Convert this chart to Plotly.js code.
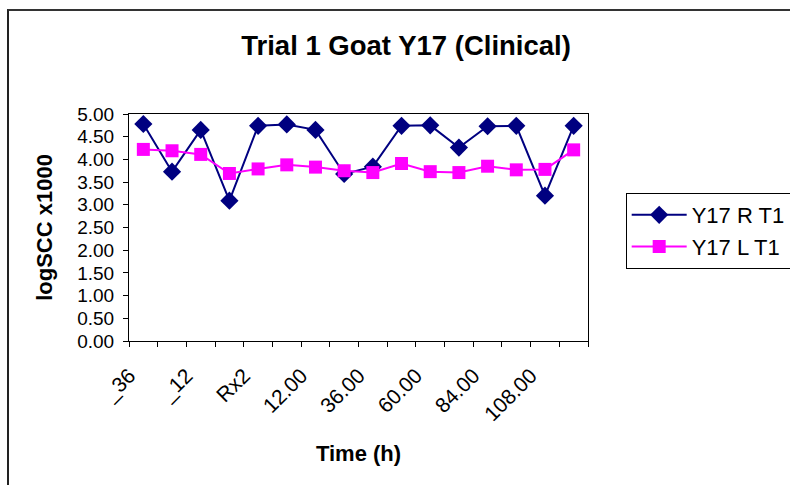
<!DOCTYPE html>
<html>
<head>
<meta charset="utf-8">
<script src="https://cdn.plot.ly/plotly-3.0.1.min.js"></script>
<style>
  html, body { margin: 0; padding: 0; background: #fff; }
  #wrap { position: relative; width: 790px; height: 485px; overflow: hidden; }
  #chart { width: 790px; height: 485px; }
  #frame { position: absolute; left: 7px; top: 9px; width: 800px; height: 500px;
           border-left: 2px solid #222; border-top: 2px solid #333; pointer-events: none; box-sizing: border-box; }
</style>
</head>
<body>
<div id="wrap">
  <div id="chart"></div>
  <div id="frame"></div>
</div>
<script>
const categories = ["_36","_24","_12","Rx1","Rx2","0.00","12.00","24.00","36.00","48.00","60.00","72.00","84.00","96.00","108.00","120.00"];
const tickLabels = ["_36","","_12","","Rx2","","12.00","","36.00","","60.00","","84.00","","108.00",""];
const seriesRName = "Y17 R T1";
const seriesRValues = [4.78,3.73,4.65,3.09,4.74,4.77,4.65,3.68,3.84,4.74,4.75,4.26,4.73,4.74,3.20,4.74];
const seriesLName = "Y17 L T1";
const seriesLValues = [4.22,4.19,4.11,3.69,3.79,3.88,3.83,3.75,3.71,3.91,3.73,3.71,3.85,3.77,3.78,4.21];
const yTickVals = [0,0.5,1,1.5,2,2.5,3,3.5,4,4.5,5];

const font = "Liberation Sans, Arial, sans-serif";
const traces = [
  { x: categories, y: seriesRValues, name: seriesRName, type: "scatter", mode: "lines+markers",
    line: { color: "#000080", width: 2 },
    marker: { symbol: "diamond", size: 14, color: "#000080" } },
  { x: categories, y: seriesLValues, name: seriesLName, type: "scatter", mode: "lines+markers",
    line: { color: "#FF00FF", width: 2 },
    marker: { symbol: "square", size: 13, color: "#FF00FF" } }
];
const layout = {
  width: 790, height: 485,
  margin: { l: 129, r: 202, t: 114, b: 144 },
  paper_bgcolor: "#fff", plot_bgcolor: "#fff",
  font: { family: font, size: 19, color: "#000" },
  title: { text: "<b>Trial 1 Goat Y17 (Clinical)</b>", font: { family: font, size: 27.5, color: "#000" },
           x: 0.514, xref: "container", y: 0.907, yref: "container", yanchor: "middle" },
  xaxis: { type: "category", categoryorder: "array", categoryarray: categories,
           tickmode: "array", tickvals: categories, ticktext: tickLabels,
           tickson: "boundaries", ticks: "outside", ticklen: 5, tickcolor: "#000",
           tickangle: -45, showgrid: false, zeroline: false, automargin: false,
           tickfont: { family: font, size: 21 }, ticklabelstandoff: 13, ticklabelshift: -14,
           showline: true, linecolor: "#000", linewidth: 1, mirror: true,
           range: [-0.5, 15.5],
           title: { text: "<b>Time (h)</b>", font: { family: font, size: 22 }, standoff: 21 } },
  yaxis: { range: [0, 5], tickvals: yTickVals, tickformat: ".2f", ticks: "outside", ticklen: 5,
           tickcolor: "#000", showgrid: false, zeroline: false, automargin: false,
           tickfont: { family: font, size: 19 }, ticklabelstandoff: 5,
           showline: true, linecolor: "#000", linewidth: 1, mirror: true,
           title: { text: "<b>logSCC x1000</b>", font: { family: font, size: 22 }, standoff: 18 } },
  legend: { xref: "container", yref: "container", x: 0.792, xanchor: "left", y: 0.602, yanchor: "top",
            bordercolor: "#000", borderwidth: 1, bgcolor: "#fff",
            itemwidth: 55,
            font: { family: font, size: 22 }, tracegroupgap: 0 },
  showlegend: true
};
Plotly.newPlot("chart", traces, layout, { displayModeBar: false, staticPlot: true });
</script>
</body>
</html>
